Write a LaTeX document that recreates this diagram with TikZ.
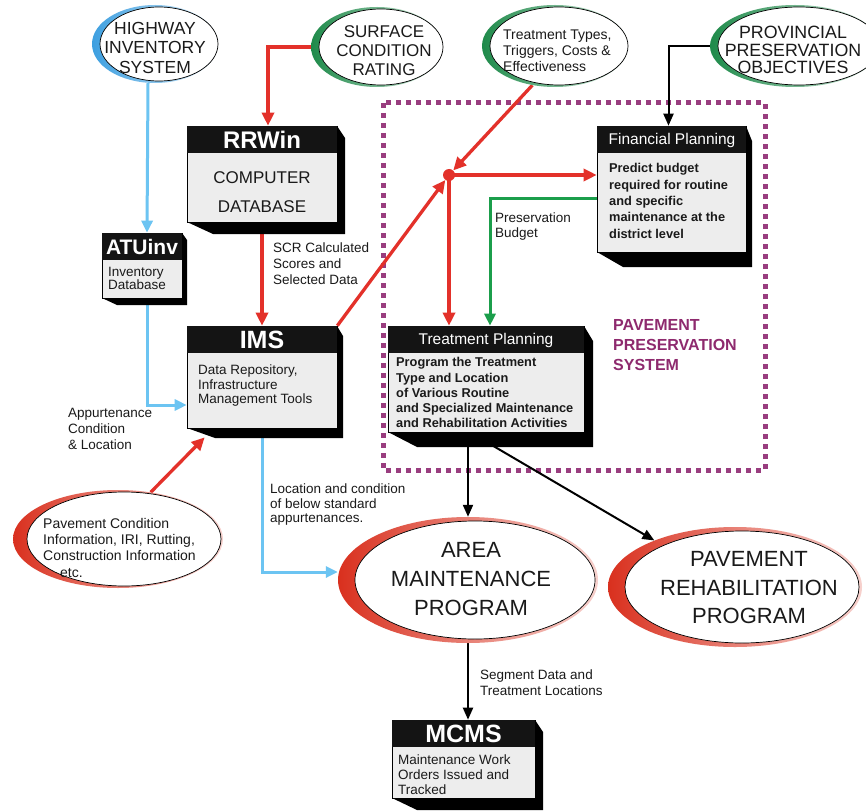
\documentclass[tikz,border=0pt]{standalone}
\usepackage{fontspec}
\setmainfont{Liberation Sans}
\usetikzlibrary{arrows.meta,calc,shapes.geometric}
\pgfdeclarelayer{bg}
\pgfsetlayers{bg,main}
\definecolor{ared}{HTML}{E3312A}
\definecolor{ablue}{HTML}{6CC4F2}
\definecolor{agreen}{HTML}{1B9E4B}
\definecolor{dotpurple}{HTML}{993D7F}
\definecolor{txtpurple}{HTML}{8E2A6E}
\definecolor{boxgray}{HTML}{EDEDED}
\definecolor{cblue}{HTML}{3D9FE0}
\definecolor{cgreen}{HTML}{1E8A4A}
\definecolor{cred}{HTML}{D9301E}
\definecolor{ink}{HTML}{1A1A1A}
\newcommand\fsz[2]{\fontsize{#1}{#2}\selectfont}
\newcommand\tdbox[9]{%
  \fill[black] (#2,#6) -- ({#2+#9},{#6+#8}) -- ({#4+#7},{#6+#8}) -- ({#4+#7},{#3+#8}) -- (#4,#3) -- cycle;
  \node[boxbody, minimum width={#4-#2}, minimum height={#6-#3}] (#1) at ({(#2+#4)/2},{(#3+#6)/2}) {};
  \fill[black!92] (#2,#3) rectangle (#4,#5);
}
\newcommand\crescent[9]{%
  \shade[left color=#6, right color=#6!22] (#2,#3) ellipse [x radius=#4, y radius=#5];
  \filldraw[fill=white, draw=black, line width=0.7pt] ({#2+#7},#3) ellipse [x radius={#4-#8}, y radius={#5-#9}];
  \node[ellipse, inner sep=0pt, minimum width={2*#4}, minimum height={2*#5}] (#1) at (#2,#3) {};
}
\tikzset{
  boxbody/.style={rectangle, draw=black, line width=0.6pt, fill=boxgray, inner sep=0pt},
  headtext/.style={text=white, inner sep=0pt, anchor=center},
  lbl/.style={anchor=north west, align=left, inner sep=0pt, text=ink},
  ctext/.style={anchor=center, align=center, inner sep=0pt, text=ink},
  redarrow/.style={draw=ared, line width=3.3pt, -{Triangle[length=13pt,width=12pt]}},
  redline/.style={draw=ared, line width=3.3pt},
  bluearrow/.style={draw=ablue, line width=3pt, -{Triangle[length=12pt,width=11pt]}},
  greenarrow/.style={draw=agreen, line width=3pt, -{Triangle[length=12pt,width=11pt]}},
  blackarrow/.style={draw=black, line width=2pt, -{Triangle[length=12pt,width=10pt]}},
}
\begin{document}
\begin{tikzpicture}[x=1pt,y=-1pt]
\useasboundingbox (0,0) rectangle (866,810);
\clip (0,0) rectangle (866,810);

% background and preservation system frame
\begin{pgfonlayer}{bg}
\fill[white] (0,0) rectangle (866,810);
\draw[dotpurple, line width=5pt, dash pattern=on 5pt off 5pt] (383,103) rectangle (765,470);
\end{pgfonlayer}

% ellipses
\crescent{hwy}{155}{44}{63}{39}{cblue}{4}{4}{2}
\node[ctext, font=\fsz{17.5}{19.5}] (hwyt) at (155,47.5) {HIGHWAY\\INVENTORY\\SYSTEM};
\crescent{scr}{377}{47}{66}{40}{cgreen}{4}{4}{2}
\node[ctext, font=\fsz{17}{19}] (scrt) at (384,51) {SURFACE\\CONDITION\\RATING};
\crescent{ttypes}{555}{46}{73}{41}{cgreen}{4}{4}{2}
\node[lbl, font=\fsz{14}{16}] (ttypest) at (503,30) {Treatment Types,\\Triggers, Costs \&\\Effectiveness};
\crescent{prov}{795}{46}{85}{41}{cgreen}{4}{4}{2}
\node[ctext, font=\fsz{17.8}{17.8}] (provt) at (793,50) {PROVINCIAL\\PRESERVATION\\OBJECTIVES};
\crescent{ptc}{118}{539}{105}{49}{cred}{6}{8}{2}
\node[lbl, font=\fsz{14}{16.3}] (ptct) at (43,518) {Pavement Condition\\Information, IRI, Rutting,\\Construction Information\\\hspace*{17pt}etc.};
\crescent{area}{468}{580}{130}{63}{cred}{7}{10}{4}
\node[ctext, font=\fsz{22}{29}] (areat) at (471,579) {AREA\\MAINTENANCE\\PROGRAM};
\crescent{rehab}{735}{587}{127}{60}{cred}{7}{10}{4}
\node[ctext, font=\fsz{22}{28.5}] (rehabt) at (749,588) {PAVEMENT\\REHABILITATION\\PROGRAM};

% boxes
\tdbox{rrwin}{187}{126}{337}{153}{222}{8}{12}{26}
\node[headtext, font=\fsz{24}{24}\bfseries] (rrwinh) at (262,140) {RRWin};
\node[ctext, font=\fsz{17}{29}] (rrwint) at (262,192.5) {COMPUTER\\DATABASE};

\tdbox{atu}{102}{233}{182}{260}{298}{5}{7}{15}
\node[headtext, font=\fsz{21}{21}\bfseries] (atuh) at (142,247) {ATUinv};
\node[lbl, font=\fsz{13.5}{13.5}] (atut) at (108,267) {Inventory\\Database};

\tdbox{ims}{187}{326}{337}{353}{428}{6}{10}{28}
\node[headtext, font=\fsz{25}{25}\bfseries] (imsh) at (262,340) {IMS};
\node[lbl, font=\fsz{13.5}{14.5}] (imst) at (198,365) {Data Repository,\\Infrastructure\\Management Tools};

\tdbox{fin}{597}{126}{746}{153}{252}{6}{15}{26}
\node[headtext, font=\fsz{15.5}{15.5}] (finh) at (672,140) {Financial Planning};
\node[lbl, font=\fsz{12.8}{16.3}\bfseries] (fint) at (609,163.5) {Predict budget\\required for routine\\and specific\\maintenance at the\\district level};

\tdbox{treat}{388}{326}{584}{353}{432}{9}{15}{29}
\node[headtext, font=\fsz{15.5}{15.5}] (treath) at (486,340) {Treatment Planning};
\node[lbl, font=\fsz{12.8}{15.2}\bfseries] (treatt) at (396,357.5) {Program the Treatment\\Type and Location\\of Various Routine\\and Specialized Maintenance\\and Rehabilitation Activities};

\tdbox{mcms}{392}{720}{535}{747}{798}{8}{12}{25}
\node[headtext, font=\fsz{25}{25}\bfseries] (mcmsh) at (463.5,734) {MCMS};
\node[lbl, font=\fsz{13.5}{15}] (mcmst) at (398,755) {Maintenance Work\\Orders Issued and\\Tracked};

% junction
\node[circle, fill=ared, inner sep=0pt, minimum size=12pt] (jn) at (449,175) {};

% labels
\node[lbl, font=\fsz{13.5}{16}] (scrlbl) at (273,243) {SCR Calculated\\Scores and\\Selected Data};
\node[lbl, font=\fsz{13.5}{16}] (applbl) at (68,408) {Appurtenance\\Condition\\\& Location};
\node[lbl, font=\fsz{13.5}{14.5}] (loclbl) at (270,484) {Location and condition\\of below standard\\appurtenances.};
\node[lbl, font=\fsz{13.5}{15}] (budlbl) at (495,213) {Preservation\\Budget};
\node[lbl, font=\fsz{13.5}{16}] (seglbl) at (480,670) {Segment Data and\\Treatment Locations};
\node[lbl, font=\fsz{16}{20}\bfseries, text=txtpurple] (ppslbl) at (613,319) {PAVEMENT\\PRESERVATION\\SYSTEM};

% connectors
\begin{pgfonlayer}{bg}
\draw[bluearrow] ([xshift=-7pt]hwy.south) -- ([xshift=5pt]atu.north);
\draw[redarrow] (scr.west) -| ([xshift=6pt]rrwin.north);
\draw[redarrow] (rrwin.south) -- (ims.north);
\draw[bluearrow] ([xshift=5pt]atu.south) |- ([yshift=-28pt]ims.west);
\draw[redarrow] (ims.north east) -- (jn);
\draw[redarrow] (ttypes.240) -- (jn);
\draw[redarrow] (jn.center) -- (jn -| fin.west);
\draw[redarrow] (jn.center) -- (jn |- treat.north);
\draw[greenarrow] ([yshift=-10pt]fin.west) -| ([xshift=4pt]treat.north);
\draw[blackarrow] (prov.west) -| ([xshift=-3pt]fin.north);
\draw[redarrow] (ptc.55) -- ($(ims.south west)+(18,9)$);
\draw[bluearrow] (ims.south) |- ([yshift=8pt]area.west);
\draw[blackarrow] ([xshift=-18pt]treat.south) -- (area.north);
\draw[blackarrow] ([xshift=-16pt]treat.south) -- (rehab.150);
\draw[blackarrow] (area.south) -- (area.south |- mcms.north);
\end{pgfonlayer}
\end{tikzpicture}
\end{document}
